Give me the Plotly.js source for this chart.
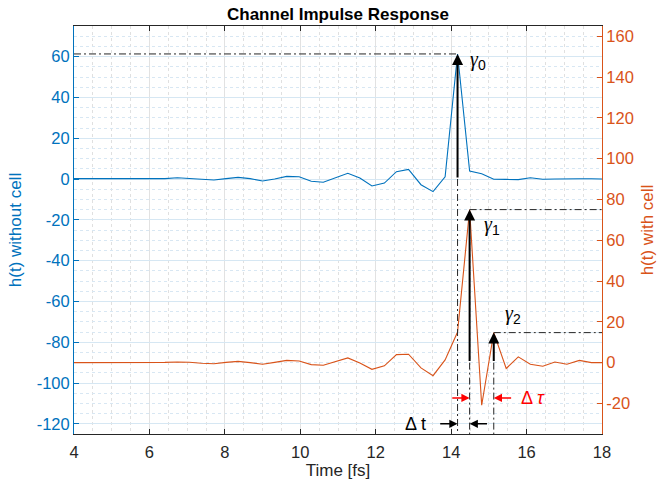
<!DOCTYPE html>
<html>
<head>
<meta charset="utf-8">
<script src="https://cdn.plot.ly/plotly-3.0.1.min.js"></script>
<style>html,body{margin:0;padding:0;background:#fff;}#chart{width:661px;height:489px;}</style>
</head>
<body>
<div id="chart"></div>
<script>
// ---- data ----
const time = [3.83, 4.15, 4.48, 4.80, 5.12, 5.44, 5.77, 6.09, 6.41, 6.74, 7.06, 7.38, 7.71, 8.03, 8.35,
  8.67, 9.00, 9.32, 9.64, 9.97, 10.29, 10.61, 10.93, 11.26, 11.58, 11.90, 12.23, 12.55, 12.87, 13.20,
  13.52, 13.84, 14.17, 14.49, 14.81, 15.13, 15.46, 15.78, 16.10, 16.43, 16.75, 17.07, 17.40, 17.72, 18.04];
const hWithoutCell = [0.2, 0.2, 0.1, 0.0, 0.1, 0.2, 0.1, -0.1, 0.2, 0.6, 0.3, -0.3, -0.5, 0.2, 0.8,
  0.2, -1.0, 0.0, 1.3, 1.1, -1.1, -1.6, 0.6, 2.8, 0.5, -3.4, -2.0, 3.6, 4.7, -2.8,
  -6.2, 1.1, 61.3, 3.9, 2.6, -0.1, -0.2, -0.3, 0.6, -0.1, 0.0, 0.2, 0.1, 0.1, 0.0];
const hWithCell = [0.0, 0.0, -0.1, 0.0, 0.1, 0.1, 0.0, -0.2, 0.1, 0.3, 0.2, -0.3, -0.6, 0.1, 0.6,
  0.0, -0.8, 0.1, 1.1, 0.8, -1.0, -1.3, 0.5, 2.3, -0.2, -3.3, -1.6, 3.9, 4.1, -2.6,
  -6.4, 1.3, 15.0, 75.0, -20.9, 14.7, -2.9, 2.8, -0.8, -1.8, 0.3, -0.8, 1.1, 0.0, 0.0];
const xTicks = [4, 6, 8, 10, 12, 14, 16, 18];
const xTickLabels = ['4', '6', '8', '10', '12', '14', '16', '18'];
const leftTicks = [-120, -100, -80, -60, -40, -20, 0, 20, 40, 60];
const leftTickLabels = ['-120', '-100', '-80', '-60', '-40', '-20', '0', '20', '40', '60'];
const rightTicks = [-20, 0, 20, 40, 60, 80, 100, 120, 140, 160];
const rightTickLabels = ['-20', '0', '20', '40', '60', '80', '100', '120', '140', '160'];
const xRange = [4, 18];
const leftRange = [-125, 75];
const rightRange = [-35, 165];

// ---- styling ----
const BLUE = '#0072BD';
const ORANGE = '#D95319';
const DARK = '#262626';
const FONT = 'Liberation Sans, Arial, Helvetica, sans-serif';
const DASHDOT = '7px,3px,2px,3px';
const TICK_SIZE = 16.5;
const LABEL_SIZE = 17;

function argmax(arr, from) {
  let best = from || 0;
  for (let i = best; i < arr.length; i++) if (arr[i] > arr[best]) best = i;
  return best;
}
const i0 = argmax(hWithoutCell);
const i1 = argmax(hWithCell);
const i2 = argmax(hWithCell, i1 + 2);

const traces = [
  {x: time, y: hWithoutCell, type: 'scatter', mode: 'lines', line: {color: BLUE, width: 1.1}, yaxis: 'y', hoverinfo: 'skip'},
  {x: time, y: hWithCell, type: 'scatter', mode: 'lines', line: {color: ORANGE, width: 1.1}, yaxis: 'y2', hoverinfo: 'skip'}
];

function ddLine(x0, y0, x1, y1, yref) {
  return {type: 'line', xref: 'x', yref: yref, x0: x0, y0: y0, x1: x1, y1: y1,
    line: {color: DARK, width: 1, dash: DASHDOT}, layer: 'above'};
}
const shapes = [
  ddLine(xRange[0], hWithoutCell[i0], time[i0], hWithoutCell[i0], 'y'),
  ddLine(time[i0], 0, time[i0], leftRange[0], 'y'),
  ddLine(time[i1], hWithCell[i1], xRange[1], hWithCell[i1], 'y2'),
  ddLine(time[i1], 0, time[i1], rightRange[0], 'y2'),
  ddLine(time[i2], hWithCell[i2], xRange[1], hWithCell[i2], 'y2'),
  ddLine(time[i2], 0, time[i2], rightRange[0], 'y2')
];

function arrow(x, y, ax, ay, yref, color, width) {
  return {x: x, y: y, ax: ax, ay: ay, xref: 'x', yref: yref, axref: 'x', ayref: yref,
    text: '', showarrow: true, arrowhead: 2, arrowsize: 1.1, arrowwidth: width, arrowcolor: color,
    standoff: 0, startstandoff: 0};
}
function label(x, y, yref, text, color, size, xanchor) {
  return {x: x, y: y, xref: 'x', yref: yref, text: text, showarrow: false,
    xanchor: xanchor || 'left', yanchor: 'middle', font: {family: FONT, size: size, color: color}};
}
const gammaSpan = '<span style="font-family:Liberation Serif;font-style:italic">γ</span>';
const dtY = -120;      // left-axis level of the Δt arrows
const dtauY = -17.3;   // right-axis level of the Δτ arrows
const annotations = [
  arrow(time[i0], hWithoutCell[i0], time[i0], 0, 'y', 'black', 2),
  arrow(time[i1], hWithCell[i1], time[i1], 0, 'y2', 'black', 2),
  arrow(time[i2], hWithCell[i2], time[i2], 0, 'y2', 'black', 2),
  label(time[i0] + 0.28, hWithoutCell[i0] - 3, 'y', gammaSpan + '<sub>0</sub>', 'black', 20),
  label(time[i1] + 0.33, hWithCell[i1] - 8, 'y2', gammaSpan + '<sub>1</sub>', 'black', 20),
  label(time[i2] + 0.24, hWithCell[i2] + 9, 'y2', gammaSpan + '<sub>2</sub>', 'black', 20),
  arrow(time[i0], dtY, time[i0] - 0.5, dtY, 'y', 'black', 1.5),
  arrow(time[i1], dtY, time[i1] + 0.5, dtY, 'y', 'black', 1.5),
  arrow(time[i1], dtauY, time[i1] - 0.5, dtauY, 'y2', '#ff0000', 1.5),
  arrow(time[i2], dtauY, time[i2] + 0.5, dtauY, 'y2', '#ff0000', 1.5),
  label(time[i0] - 0.78, dtY, 'y', 'Δ t', 'black', 18, 'right'),
  label(time[i2] + 0.68, dtauY, 'y2', 'Δ <i>τ</i>', '#ff0000', 18, 'left')
];

const layout = {
  width: 661, height: 489,
  margin: {l: 74, r: 59, t: 26, b: 55, pad: 0},
  paper_bgcolor: '#ffffff', plot_bgcolor: '#ffffff',
  font: {family: FONT, size: TICK_SIZE, color: DARK},
  showlegend: false,
  title: {text: '<b>Channel Impulse Response</b>', x: 0.5, xref: 'paper', xanchor: 'center', y: 0.972, yanchor: 'middle',
    font: {family: FONT, size: 17, color: '#000000'}},
  xaxis: {
    range: xRange, tickvals: xTicks, ticktext: xTickLabels, ticks: 'inside', ticklen: 5, tickcolor: DARK,
    showline: true, linecolor: DARK, linewidth: 1, mirror: 'ticks', zeroline: false,
    showgrid: true, gridcolor: '#e2e2e2', gridwidth: 1,
    minor: {dtick: 0.5, tick0: 4, showgrid: true, gridcolor: '#e0e0e0', griddash: 'dot', gridwidth: 1},
    tickfont: {family: FONT, size: TICK_SIZE, color: DARK},
    ticklabelstandoff: 3,
    title: {text: 'Time [fs]', font: {family: FONT, size: LABEL_SIZE, color: DARK}, standoff: 4},
    automargin: false
  },
  yaxis: {
    range: leftRange, tickvals: leftTicks, ticktext: leftTickLabels, ticks: 'inside', ticklen: 5, tickcolor: BLUE,
    showline: true, linecolor: BLUE, linewidth: 1, zeroline: false,
    showgrid: true, gridcolor: '#d6e7f3', gridwidth: 1,
    minor: {dtick: 5, tick0: 0, showgrid: true, gridcolor: '#d8e7f3', griddash: 'dot', gridwidth: 1},
    tickfont: {family: FONT, size: TICK_SIZE, color: BLUE},
    title: {text: 'h(t) without cell', font: {family: FONT, size: LABEL_SIZE, color: BLUE}, standoff: 10},
    automargin: false
  },
  yaxis2: {
    overlaying: 'y', side: 'right',
    range: rightRange, tickvals: rightTicks, ticktext: rightTickLabels, ticks: 'inside', ticklen: 5, tickcolor: ORANGE,
    showline: true, linecolor: ORANGE, linewidth: 1, zeroline: false, showgrid: false,
    tickfont: {family: FONT, size: TICK_SIZE, color: ORANGE},
    title: {text: 'h(t) with cell', font: {family: FONT, size: LABEL_SIZE, color: ORANGE}, standoff: 8},
    automargin: false
  },
  shapes: shapes,
  annotations: annotations
};

Plotly.newPlot('chart', traces, layout, {staticPlot: true, displayModeBar: false});
</script>
</body>
</html>
